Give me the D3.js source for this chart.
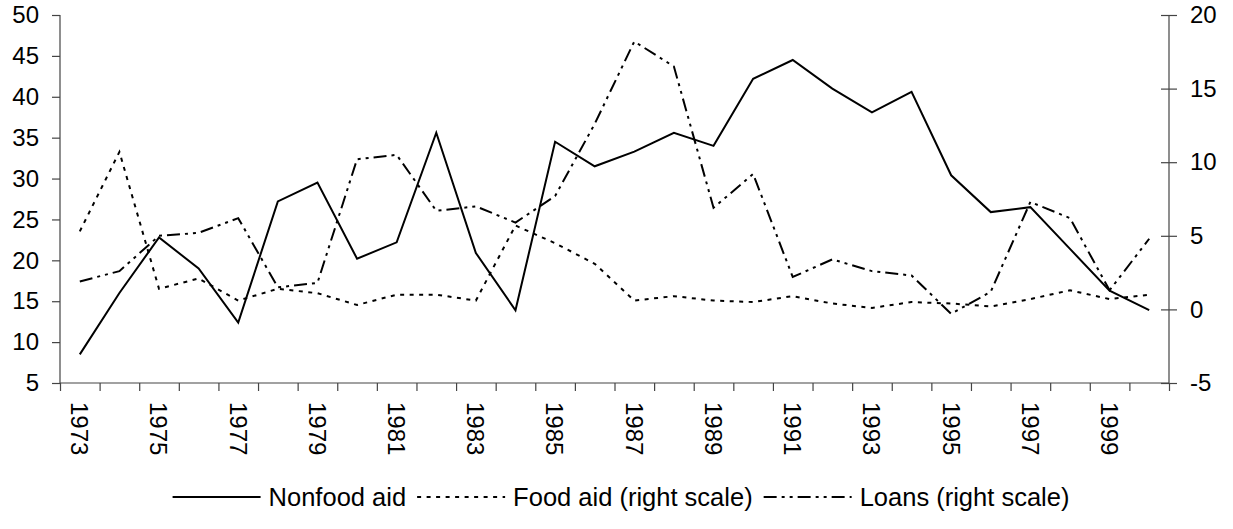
<!DOCTYPE html>
<html>
<head>
<meta charset="utf-8">
<script src="https://cdnjs.cloudflare.com/ajax/libs/d3/7.8.5/d3.min.js"></script>
<style>
  body { margin: 0; background: #fff; }
  text { font-family: "Liberation Sans", Arial, sans-serif; fill: #000; }
</style>
</head>
<body>
<div id="chart"></div>
<script>
// years on the x axis
var years = d3.range(1973, 2001);
// left scale
var nonfood = [8.5, 16.0, 22.8, 19.0, 12.4, 27.2, 29.5, 20.2, 22.2, 35.6, 20.9, 13.9, 34.5, 31.5,
  33.3, 35.6, 34.0, 42.2, 44.5, 41.0, 38.1, 40.6, 30.4, 25.9, 26.5, 21.4, 16.3, 13.9];
// right scale
var foodAid = [5.3, 10.7, 1.4, 2.1, 0.6, 1.4, 1.1, 0.3, 1.0, 1.0, 0.6, 5.7, 4.5, 3.1,
  0.6, 0.9, 0.6, 0.5, 0.9, 0.4, 0.1, 0.5, 0.4, 0.2, 0.7, 1.3, 0.7, 1.0];
var loans = [1.9, 2.6, 5.0, 5.2, 6.2, 1.5, 1.8, 10.2, 10.5, 6.7, 7.0, 5.9, 7.7, 12.6,
  18.2, 16.5, 6.9, 9.2, 2.2, 3.4, 2.6, 2.3, -0.3, 1.2, 7.3, 6.2, 1.3, 4.8];
var leftTicks = [5, 10, 15, 20, 25, 30, 35, 40, 45, 50];
var rightTicks = [-5, 0, 5, 10, 15, 20];
var labelYears = years.filter(function(d) { return d % 2 === 1; });

var W = 1233, H = 529;
var margin = {top: 15, right: 64, bottom: 146, left: 60},
    width = W - margin.left - margin.right,
    height = H - margin.top - margin.bottom;

var svg = d3.select("#chart").append("svg")
    .attr("width", W)
    .attr("height", H)
  .append("g")
    .attr("transform", "translate(" + margin.left + "," + margin.top + ")");

var x = d3.scaleBand().domain(years).range([0, width]).padding(0);
var xi = d3.scaleLinear().domain([0, years.length]).range([0, width]);
var yL = d3.scaleLinear().domain([5, 50]).range([height, 0]);
var yR = d3.scaleLinear().domain([-5, 20]).range([height, 0]);

function cx(i) { return x(years[i]) + x.bandwidth() / 2; }
var plain = function(d) { return String(d); };

// left axis
var gl = svg.append("g")
    .call(d3.axisLeft(yL).tickValues(leftTicks).tickSize(8).tickPadding(13).tickFormat(plain));
// right axis, crossing ticks
var gr = svg.append("g")
    .attr("transform", "translate(" + width + ",0)")
    .call(d3.axisRight(yR).tickValues(rightTicks).tickSize(8).tickPadding(13).tickFormat(plain));
gr.selectAll(".tick line").attr("x1", -8);

// x axis tick marks at band edges
var gx = svg.append("g")
    .attr("transform", "translate(0," + height + ")")
    .call(d3.axisBottom(xi).tickValues(d3.range(years.length + 1)).tickSize(8).tickFormat(""));

// x axis labels
var gxl = svg.append("g")
    .attr("transform", "translate(0," + height + ")")
    .call(d3.axisBottom(x).tickValues(labelYears).tickSize(0).tickFormat(plain));
gxl.select(".domain").remove();
gxl.selectAll("text")
    .attr("transform", "rotate(90)")
    .attr("x", 19)
    .attr("y", 0)
    .attr("dy", "0.36em")
    .style("text-anchor", "start");

[gl, gr, gx, gxl].forEach(function(g) {
  g.selectAll("text").style("font-size", "24px").style("font-family", "Liberation Sans, Arial, sans-serif").attr("fill", "#000");
  g.selectAll("line, path").attr("stroke", "#444").attr("stroke-width", 1.2);
});
gr.select(".domain").attr("d", "M0,0V" + height);
gl.select(".domain").attr("d", "M0,0V" + height);
gx.select(".domain").attr("d", "M0,0H" + width);

var lineL = d3.line().x(function(d, i) { return cx(i); }).y(function(d) { return yL(d); });
var lineR = d3.line().x(function(d, i) { return cx(i); }).y(function(d) { return yR(d); });

var series = [
  {name: "Nonfood aid", data: nonfood, line: lineL, dash: null},
  {name: "Food aid (right scale)", data: foodAid, line: lineR, dash: "4,5.5"},
  {name: "Loans (right scale)", data: loans, line: lineR, dash: "13,5,3,5,3,5"}
];

series.forEach(function(s) {
  svg.append("path")
      .datum(s.data)
      .attr("fill", "none")
      .attr("stroke", "#000")
      .attr("stroke-width", 2)
      .attr("stroke-dasharray", s.dash)
      .attr("d", s.line);
});

// legend
var legend = svg.append("g");
var lx = 0;
series.forEach(function(s, i) {
  legend.append("line")
      .attr("x1", lx).attr("x2", lx + 88)
      .attr("y1", 0).attr("y2", 0)
      .attr("stroke", "#000")
      .attr("stroke-width", 2)
      .attr("stroke-dasharray", s.dash);
  var t = legend.append("text")
      .attr("x", lx + 96)
      .attr("y", 0)
      .attr("dy", "0.35em")
      .style("font-size", "25.5px")
      .text(s.name);
  lx += 96 + t.node().getComputedTextLength() + 11;
});
var lw = lx - 11;
legend.attr("transform", "translate(" + (621 - margin.left - lw / 2) + "," + (497 - margin.top) + ")");
</script>
</body>
</html>
